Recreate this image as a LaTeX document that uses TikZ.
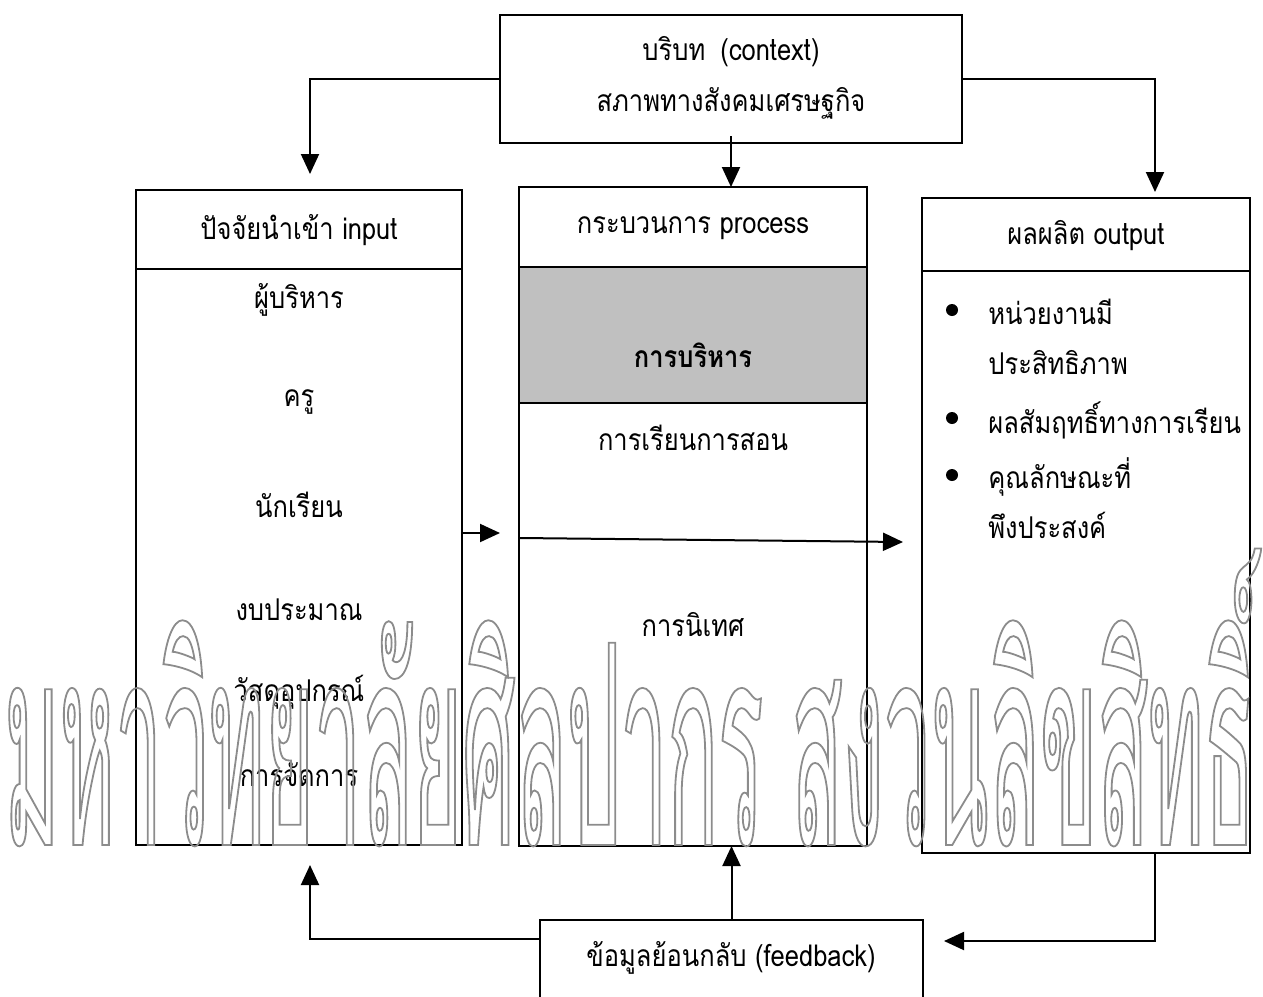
\documentclass[tikz,border=0pt]{standalone}
\usepackage{fontspec}
\setmainfont{Loma}[Script=Thai, FakeStretch=0.85]
\newfontfamily\wmfont{Loma}[Script=Thai, FakeStretch=0.30]
\usetikzlibrary{arrows.meta}
\definecolor{bandgray}{RGB}{192,192,192}
\definecolor{wmgray}{RGB}{140,140,140}
\newcommand{\outlineon}{\special{pdf:literal direct 1 Tr 0.9 w}}
\newcommand{\outlineoff}{\special{pdf:literal direct 0 Tr}}
\tikzset{
  box/.style={draw, line width=1pt, inner sep=0pt},
  lbl/.style={font=\fontsize{15pt}{17pt}\selectfont, inner sep=0pt},
  arr/.style={line width=1pt, -{Triangle[length=10pt, width=9pt]}},
  ln/.style={line width=1pt},
}
\begin{document}
\begin{tikzpicture}[x=0.5pt, y=-0.5pt]
\useasboundingbox (0,0) rectangle (1263,996);
\clip (0,0) rectangle (1263,996);

% main boxes
\node[box, minimum width=231pt, minimum height=64pt] (ctx) at (731,79) {};
\node[box, minimum width=163pt, minimum height=327.5pt] (inp) at (299,517.5) {};
\node[box, draw=none, minimum width=173pt, minimum height=328.5pt] (proc) at (693,516.5) {};
\node[box, minimum width=164pt, minimum height=327.5pt] (out) at (1086,525.5) {};
\node[box, minimum width=191.5pt, minimum height=45pt] (fb) at (731.5,965) {};

% shaded band inside the process column, then its frame
\fill[bandgray] ([yshift=-40pt]proc.north west) rectangle ([yshift=-108pt]proc.north east);
\draw[ln] ([yshift=-108pt]proc.north west) -- ([yshift=-108pt]proc.north east);
\draw[ln] (proc.north west) rectangle (proc.south east);

% header dividers
\draw[ln] ([yshift=-40pt]inp.north west) -- ([yshift=-40pt]inp.north east);
\draw[ln] ([yshift=-40pt]proc.north west) -- ([yshift=-40pt]proc.north east);
\draw[ln] ([yshift=-37pt]out.north west) -- ([yshift=-37pt]out.north east);

% context box
\node[lbl] (ctx1) at (731,52) {บริบท\enspace(context)};
\node[lbl] (ctx2) at (731,103) {สภาพทางสังคมเศรษฐกิจ};

% titles
\node[lbl] (tin) at (299,230) {ปัจจัยนำเข้า input};
\node[lbl] (tproc) at (693,228) {กระบวนการ process};
\node[lbl] (tout) at (1086,236) {ผลผลิต output};

% input items
\node[lbl] (i1) at (299,300) {ผู้บริหาร};
\node[lbl] (i2) at (299,402) {ครู};
\node[lbl] (i3) at (299,505) {นักเรียน};
\node[lbl] (i4) at (299,610) {งบประมาณ};
\node[lbl] (i5) at (299,692) {วัสดุอุปกรณ์};
\node[lbl] (i6) at (299,775) {การจัดการ};

% process items
\node[lbl, font=\fontsize{15pt}{17pt}\selectfont\bfseries] (p1) at (693,355) {การบริหาร};
\node[lbl] (p2) at (693,438) {การเรียนการสอน};
\node[lbl] (p3) at (693,625) {การนิเทศ};

% output items
\foreach \n/\yy in {b1/310, b2/418, b3/475}
  \fill (952,\yy) circle (3pt) coordinate (\n);
\node[lbl, anchor=west] (o1) at (988,312) {หน่วยงานมี};
\node[lbl, anchor=west] (o2) at (988,363) {ประสิทธิภาพ};
\node[lbl, anchor=west] (o3) at (988,420) {ผลสัมฤทธิ์ทางการเรียน};
\node[lbl, anchor=west] (o4) at (988,477) {คุณลักษณะที่};
\node[lbl, anchor=west] (o5) at (988,525) {พึงประสงค์};

% feedback label
\node[lbl] (fbt) at (731,958) {ข้อมูลย้อนกลับ (feedback)};

% connectors
\coordinate (inTop) at (310,174);
\coordinate (outTop) at (1155,192);
\draw[arr] (ctx.west) -| (inTop);
\draw[arr] (ctx.east) -| (outTop);
\draw[arr] ([yshift=4pt]ctx.south) -- (ctx.south |- proc.north);

\coordinate (ipA) at (500,533);
\draw[arr] (inp.east |- ipA) -- (ipA);
\coordinate (poS) at (520,538);
\coordinate (poA) at (903,542);
\draw[arr] (poS) -- (poA);

\coordinate (inBot) at (310,865);
\coordinate (outB) at (1155,853);
\coordinate (fbR) at (944,941);
\draw[arr] (fb.north) -- (fb.north |- proc.south);
\draw[arr] ([yshift=-10pt]fb.north west) -| (inBot);
\draw[arr] (outB) |- (fbR);

% outlined watermark
\node[anchor=base west, inner sep=0pt, text=wmgray] (wm) at (4,845)
  {\wmfont\fontsize{140pt}{140pt}\selectfont\outlineon มหาวิทยาลัยศิลปากร สงวนลิขสิทธิ์\outlineoff};
\end{tikzpicture}
\end{document}
